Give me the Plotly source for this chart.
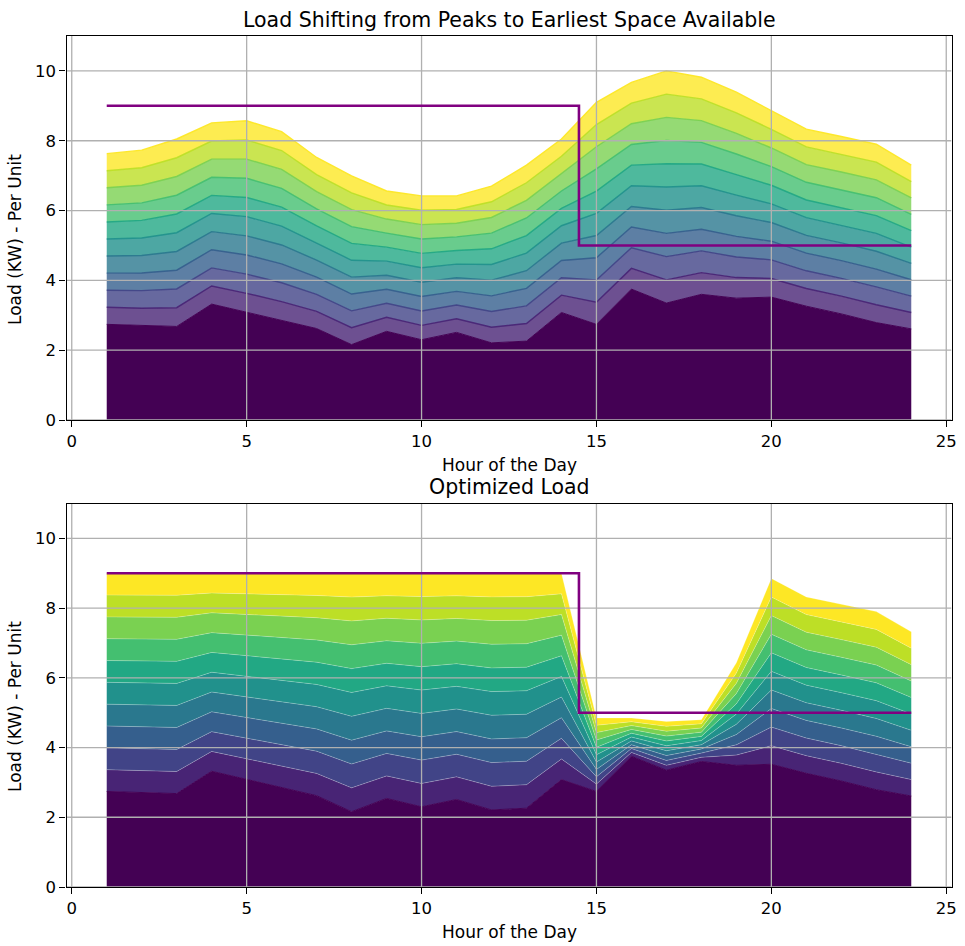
import plotly.graph_objects as go

hours = list(range(1, 25))

# Non-shiftable base load (kW) per hour
base_load = [2.74, 2.70, 2.68, 3.32, 3.08, 2.85, 2.62, 2.16, 2.54, 2.30, 2.51, 2.21,
             2.26, 3.08, 2.74, 3.75, 3.35, 3.60, 3.49, 3.52, 3.26, 3.04, 2.79, 2.61]

# Shiftable load of one unit (10 identical units are stacked), original schedule
unit_load_original = [0.489, 0.503, 0.537, 0.519, 0.549, 0.541, 0.490, 0.483, 0.402, 0.412,
                      0.391, 0.449, 0.504, 0.497, 0.636, 0.592, 0.665, 0.622, 0.590, 0.534,
                      0.507, 0.508, 0.511, 0.469]

# Shiftable load of one unit after optimisation
unit_load_optimized = [0.626, 0.630, 0.632, 0.568, 0.592, 0.615, 0.638, 0.684, 0.646, 0.670,
                       0.649, 0.679, 0.674, 0.592, 0.211, 0.110, 0.140, 0.120, 0.294, 0.533,
                       0.506, 0.507, 0.511, 0.471]

n_units = 10

# Capacity limit per hour
limit = [9, 9, 9, 9, 9, 9, 9, 9, 9, 9, 9, 9, 9, 9,
         5, 5, 5, 5, 5, 5, 5, 5, 5, 5]

x_ticks = [0, 5, 10, 15, 20, 25]
y_ticks = [0, 2, 4, 6, 8, 10]

viridis = ['#440154', '#482475', '#414487', '#355f8d', '#2a788e', '#21918c',
           '#22a884', '#44bf70', '#7ad151', '#bddf26', '#fde725']

FONT = "DejaVu Sans"
XR = [-0.15, 25.15]
YR = [0, 11]
W, H = 965, 946


def rgba(hexc, a):
    h = hexc.lstrip('#')
    r, g, b = int(h[0:2], 16), int(h[2:4], 16), int(h[4:6], 16)
    return f"rgba({r},{g},{b},{a})"


fig = go.Figure()


def add_stack(unit_load, xa, ya, top_style):
    # base
    fig.add_trace(go.Scatter(x=hours, y=base_load, mode='lines', fill='tozeroy',
                             fillcolor=viridis[0], line=dict(color=viridis[0], width=1),
                             xaxis=xa, yaxis=ya, showlegend=False, hoverinfo='skip'))
    cum = list(base_load)
    for k in range(n_units):
        cum = [c + u for c, u in zip(cum, unit_load)]
        col = viridis[k + 1]
        if top_style:
            fillc = rgba(col, 0.8)
            line = dict(color=rgba(col, 0.95), width=1.4)
        else:
            fillc = col
            line = dict(color='rgba(255,255,255,0.35)', width=0.7)
        fig.add_trace(go.Scatter(x=hours, y=cum, mode='lines', fill='tonexty',
                                 fillcolor=fillc, line=line,
                                 xaxis=xa, yaxis=ya, showlegend=False, hoverinfo='skip'))


def add_grid(xa, ya):
    gx, gy = [], []
    for t in x_ticks:
        gx += [t, t, None]
        gy += [YR[0], YR[1], None]
    for t in y_ticks:
        gx += [XR[0], XR[1], None]
        gy += [t, t, None]
    fig.add_trace(go.Scatter(x=gx, y=gy, mode='lines', line=dict(color='#b0b0b0', width=1.3),
                             xaxis=xa, yaxis=ya, showlegend=False, hoverinfo='skip'))


def add_limit(xa, ya):
    fig.add_trace(go.Scatter(x=hours, y=limit, mode='lines', line_shape='hvh',
                             line=dict(color='#800080', width=2.6),
                             xaxis=xa, yaxis=ya, showlegend=False, hoverinfo='skip'))


add_stack(unit_load_original, 'x', 'y', True)
add_grid('x', 'y')
add_limit('x', 'y')

add_stack(unit_load_optimized, 'x2', 'y2', False)
add_grid('x2', 'y2')
add_limit('x2', 'y2')

xdom = [66.5 / W, 951.5 / W]
top_dom = [1 - 420 / H, 1 - 36 / H]
bot_dom = [1 - 887 / H, 1 - 503.5 / H]

axis_common = dict(showgrid=False, zeroline=False, showline=True, linecolor='black',
                   linewidth=1.3, mirror=True, ticks='outside', ticklen=6, tickwidth=1.3,
                   tickcolor='black', tickfont=dict(family=FONT, size=16.5, color='black'))

fig.update_layout(
    autosize=True,
    margin=dict(l=0, r=0, t=0, b=0, autoexpand=False),
    paper_bgcolor='white', plot_bgcolor='white',
    showlegend=False,
    xaxis=dict(domain=xdom, range=XR, tickvals=x_ticks, anchor='y', **axis_common),
    yaxis=dict(domain=top_dom, range=YR, tickvals=y_ticks, anchor='x', **axis_common),
    xaxis2=dict(domain=xdom, range=XR, tickvals=x_ticks, anchor='y2', **axis_common),
    yaxis2=dict(domain=bot_dom, range=YR, tickvals=y_ticks, anchor='x2', **axis_common),
)

xc = (xdom[0] + xdom[1]) / 2
ann = [
    dict(text="Load Shifting from Peaks to Earliest Space Available", x=xc, y=1 - 20 / H,
         font=dict(size=20.5)),
    dict(text="Optimized Load", x=xc, y=1 - 487 / H, font=dict(size=20.5)),
    dict(text="Hour of the Day", x=xc, y=1 - 465 / H, font=dict(size=17)),
    dict(text="Hour of the Day", x=xc, y=1 - 932 / H, font=dict(size=17)),
    dict(text="Load (KW) - Per Unit", x=15 / W, y=1 - 240 / H, textangle=-90,
         font=dict(size=17)),
    dict(text="Load (KW) - Per Unit", x=15 / W, y=1 - 707 / H, textangle=-90,
         font=dict(size=17)),
]
for a in ann:
    a['font'] = dict(family=FONT, color='black', **a['font'])
    fig.add_annotation(xref='paper', yref='paper', showarrow=False,
                       xanchor='center', yanchor='middle', **a)

fig.write_html("out.html")
